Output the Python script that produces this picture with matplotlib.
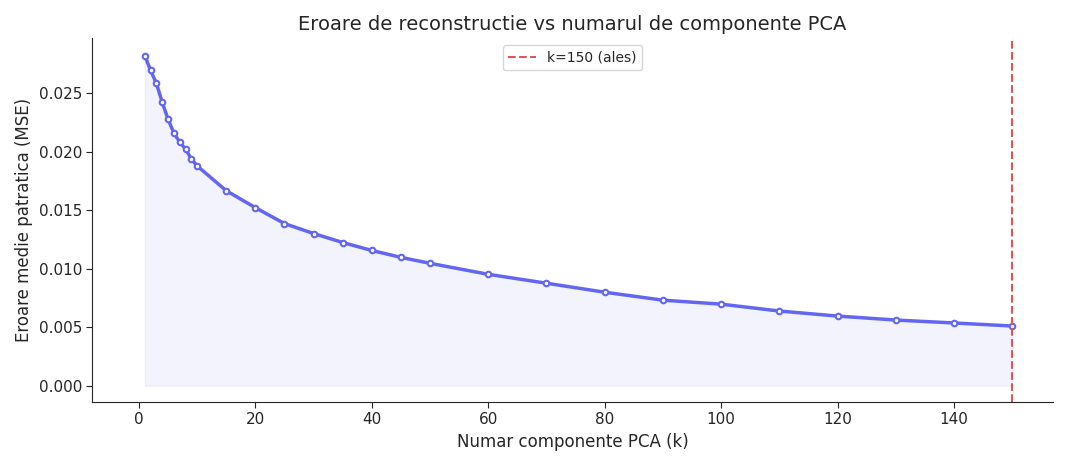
import matplotlib
matplotlib.use("Agg")
import matplotlib.pyplot as plt
import seaborn as sns

sns.set_style("white")
plt.rcParams['font.family'] = ['DejaVu Sans']

k = [1,2,3,4,5,6,7,8,9,10,15,20,25,30,35,40,45,50,60,70,80,90,100,110,120,130,140,150]
mse = [0.02823,0.02696,0.02585,0.02423,0.02279,0.0216,0.02083,0.02024,0.01939,0.01879,
       0.01667,0.01522,0.01386,0.01301,0.01224,0.01156,0.01097,0.01046,0.00952,0.00876,
       0.00799,0.00731,0.00697,0.00638,0.00595,0.00561,0.00536,0.0051]
chosen_k = 150

fig, ax = plt.subplots(figsize=(10.68, 4.66), dpi=100)
c = '#6366f1'
ax.fill_between(k, mse, 0, color=c, alpha=0.08)
ax.plot(k, mse, color=c, lw=2.5, marker='o', ms=4, mfc='white', mec=c, mew=1.5)
ax.axvline(chosen_k, color='#e05555', ls='--', lw=1.5, label=f'k={chosen_k} (ales)')
ax.set_title('Eroare de reconstructie vs numarul de componente PCA', fontsize=14)
ax.set_xlabel('Numar componente PCA (k)', fontsize=12)
ax.set_ylabel('Eroare medie patratica (MSE)', fontsize=12)
ax.set_xlim(-8, 157)
ax.set_ylim(-0.0014, 0.0297)
ax.set_yticks([0,0.005,0.01,0.015,0.02,0.025])
ax.set_yticklabels(['0.000','0.005','0.010','0.015','0.020','0.025'])
ax.tick_params(labelsize=11, left=True, bottom=True, length=4)
ax.legend(loc='upper center', fontsize=10)
sns.despine()
fig.tight_layout()
fig.savefig('out.png', dpi=100)
